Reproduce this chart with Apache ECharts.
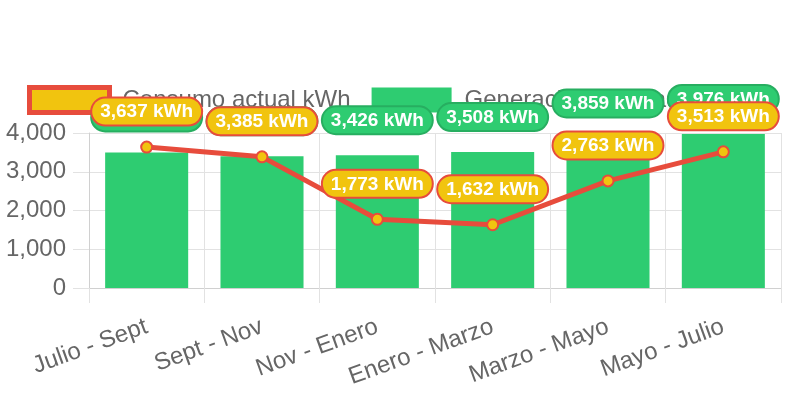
<!DOCTYPE html>
<html>
<head>
<meta charset="utf-8">
<script src="https://cdn.jsdelivr.net/npm/echarts@6/dist/echarts.min.js"></script>
<style>
html,body{margin:0;padding:0;background:#fff;}
#chart{width:792px;height:396px;}
</style>
</head>
<body>
<div id="chart"></div>
<script>
const categories = ['Julio - Sept', 'Sept - Nov', 'Nov - Enero', 'Enero - Marzo', 'Marzo - Mayo', 'Mayo - Julio'];
const consumo = [3637, 3385, 1773, 1632, 2763, 3513];
const generacion = [3500, 3400, 3426, 3508, 3859, 3976];
const yTicks = [0, 1000, 2000, 3000, 4000];
const seriesNames = ['Consumo actual kWh', 'Generación estimada kWh'];

const FONT = "'Liberation Sans', Arial, Helvetica, sans-serif";
const fmt = v => v.toLocaleString('en-US');
const kwh = p => fmt(p.value) + ' kWh';

const chart = echarts.init(document.getElementById('chart'), null, {renderer: 'canvas'});
chart.setOption({
  animation: false,
  textStyle: {fontFamily: FONT},
  legend: {
    z: 0,
    left: 27,
    top: 85,
    padding: 0,
    itemGap: 21,
    itemWidth: 80,
    itemHeight: 25,
    textStyle: {fontSize: 24, color: '#666', fontFamily: FONT, padding: [0, 0, 0, 8]},
    data: [
      {name: seriesNames[0], icon: 'rect', itemStyle: {color: '#f1c40f', borderColor: '#e74c3c', borderWidth: 5}},
      {name: seriesNames[1], icon: 'rect', itemStyle: {color: '#2ecc71', borderWidth: 0}}
    ]
  },
  grid: {left: 89, right: 11, top: 133, bottom: 108, containLabel: false},
  xAxis: {
    type: 'category',
    data: categories,
    boundaryGap: true,
    axisLine: {show: true, lineStyle: {color: '#d0d0d0', width: 1}},
    axisTick: {show: true, length: 15, interval: 0, lineStyle: {color: '#e2e2e2'}},
    splitLine: {show: true, interval: 0, lineStyle: {color: '#e2e2e2'}},
    axisLabel: {
      interval: 0, rotate: 20, margin: 38, fontSize: 24, color: '#666', fontFamily: FONT,
      padding: [50, 0, 0, 0]
    }
  },
  yAxis: {
    type: 'value',
    min: yTicks[0],
    max: yTicks[yTicks.length - 1],
    interval: yTicks[1] - yTicks[0],
    axisLine: {show: true, lineStyle: {color: '#d0d0d0'}},
    axisTick: {show: true, length: 16, lineStyle: {color: '#e2e2e2'}},
    splitLine: {show: true, lineStyle: {color: '#e2e2e2'}},
    axisLabel: {margin: 23, fontSize: 24, color: '#666', fontFamily: FONT, formatter: v => fmt(v)}
  },
  series: [
    {
      name: seriesNames[1],
      type: 'bar',
      data: generacion,
      barWidth: '72%',
      z: 2,
      itemStyle: {color: '#2ecc71'},
      label: {
        show: true,
        position: 'top',
        distance: 22,
        formatter: kwh,
        color: '#fff',
        fontWeight: 'bold',
        fontSize: 19,
        fontFamily: FONT,
        backgroundColor: '#2ecc71',
        borderColor: '#27ae60',
        borderWidth: 2,
        borderRadius: 13,
        padding: [4, 8, 3, 8]
      }
    },
    {
      name: seriesNames[0],
      type: 'line',
      data: consumo,
      z: 3,
      symbol: 'circle',
      symbolSize: 11,
      lineStyle: {color: '#e74c3c', width: 5},
      itemStyle: {color: '#f1c40f', borderColor: '#e74c3c', borderWidth: 2},
      label: {
        show: true,
        position: 'top',
        distance: 16,
        formatter: kwh,
        color: '#fff',
        fontWeight: 'bold',
        fontSize: 19,
        fontFamily: FONT,
        backgroundColor: '#f1c40f',
        borderColor: '#e74c3c',
        borderWidth: 2,
        borderRadius: 13,
        padding: [4, 8, 3, 8]
      }
    }
  ]
});
</script>
</body>
</html>
